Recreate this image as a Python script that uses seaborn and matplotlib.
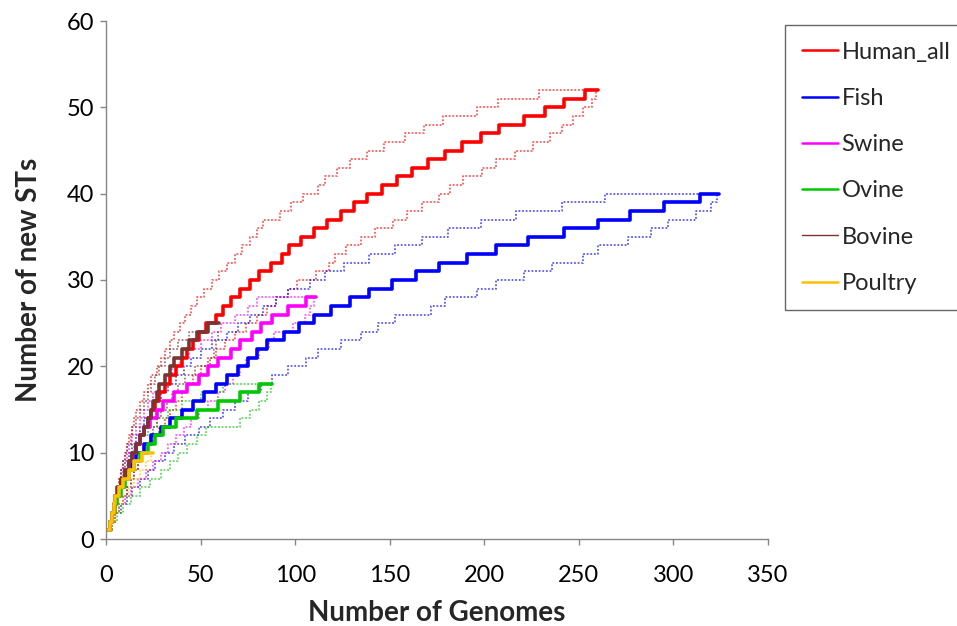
import numpy as np
import pandas as pd
import matplotlib
matplotlib.use("Agg")
import matplotlib.pyplot as plt
from matplotlib.lines import Line2D
import seaborn as sns

sns.set_theme(style="white")
plt.rcParams["font.family"] = ["Lato", "DejaVu Sans"]

# Genome counts at which each new ST (1, 2, 3, ...) is first reached,
# plus the total number of genomes sampled per host group.
human_mean = [1, 2, 3, 4, 5, 7, 8, 10, 12, 14, 16, 18, 20, 22, 24, 26, 28, 31, 34, 37,
              40, 43, 46, 49, 53, 58, 62, 66, 71, 76, 81, 87, 93, 97, 103, 110, 117, 124,
              131, 138, 146, 154, 162, 170, 179, 188, 198, 208, 221, 232, 242, 253]
human_hi = [1, 2, 3, 4, 5, 6, 7, 8, 9, 10, 11, 12, 14, 15, 16, 18, 20, 22, 24, 27,
            29, 31, 34, 36, 39, 42, 45, 48, 52, 56, 60, 64, 68, 72, 76, 80, 83, 92,
            98, 104, 112, 116, 122, 129, 138, 147, 158, 168, 178, 196, 207, 229]
human_lo = [1, 3, 5, 7, 9, 11, 13, 15, 17, 19, 22, 25, 28, 31, 34, 37, 40, 43, 46, 50,
            54, 58, 63, 68, 74, 80, 85, 90, 96, 101, 111, 118, 121, 127, 135, 142, 152,
            159, 167, 176, 182, 189, 199, 206, 216, 226, 235, 241, 247, 252, 257, 259]
human_n = 260

fish_mean = [1, 2, 3, 4, 5, 7, 9, 11, 13, 16, 20, 24, 29, 34, 40, 46, 52, 58, 64, 70,
             75, 80, 85, 94, 102, 110, 119, 129, 139, 151, 164, 176, 191, 206, 223, 242,
             260, 277, 295, 314]
fish_hi = [1, 2, 3, 4, 5, 6, 8, 9, 10, 12, 14, 16, 18, 20, 23, 26, 29, 33, 37, 41,
           45, 50, 56, 64, 70, 76, 83, 90, 96, 108, 116, 126, 139, 153, 167, 181, 198,
           217, 241, 264]
fish_lo = [1, 3, 5, 8, 11, 14, 18, 22, 26, 31, 36, 42, 49, 55, 62, 68, 75, 82, 88, 96,
           106, 112, 124, 135, 144, 153, 172, 179, 196, 206, 221, 236, 252, 260, 276,
           288, 297, 312, 320, 323]
fish_n = 324

swine_mean = [1, 2, 3, 4, 5, 7, 9, 10, 12, 14, 16, 18, 20, 23, 27, 30, 36, 43, 49, 54,
              59, 66, 71, 77, 82, 88, 96, 106]
swine_hi = [1, 2, 3, 4, 5, 6, 7, 8, 9, 11, 12, 14, 16, 18, 20, 22, 25, 28, 31, 35,
            39, 44, 50, 56, 61, 68, 75, 80]
swine_lo = [1, 3, 5, 7, 10, 13, 17, 21, 25, 29, 33, 37, 41, 45, 49, 54, 59, 63, 67, 71,
            74, 81, 86, 89, 99, 105, 108, 110]
swine_n = 111

ovine_mean = [1, 2, 3, 5, 6, 8, 10, 12, 15, 18, 22, 26, 30, 37, 48, 59, 71, 81]
ovine_hi = [1, 2, 3, 4, 5, 6, 8, 9, 11, 13, 15, 18, 22, 27, 33, 40, 50, 62]
ovine_lo = [1, 3, 6, 9, 13, 18, 23, 29, 34, 38, 43, 48, 53, 71, 76, 81, 85, 87]
ovine_n = 88

bovine_mean = [1, 2, 3, 4, 5, 6, 8, 10, 12, 14, 16, 18, 20, 22, 24, 25, 27, 28, 31, 34,
               36, 40, 44, 48, 54]
bovine_hi = [1, 2, 3, 4, 5, 6, 7, 8, 9, 10, 11, 13, 14, 16, 18, 20, 22, 24, 26, 28,
             31, 34, 38, 44, 54]
bovine_lo = [1, 3, 5, 7, 9, 11, 13, 15, 17, 19, 21, 23, 25, 27, 29, 32, 35, 38, 42, 47,
             55, 57, 58, 59]
bovine_n = 60

poultry_mean = [1, 2, 3, 4, 5, 7, 9, 12, 15, 19]
poultry_hi = [1, 2, 3, 4, 5, 6, 7, 9, 11, 14]
poultry_lo = [1, 3, 5, 7, 9, 12, 15, 18, 21, 24]
poultry_n = 25

groups = ["Human_all", "Fish", "Swine", "Ovine", "Bovine", "Poultry"]
colors = ["#FF0000", "#0000FF", "#FF00FF", "#00C800", "#7A3431", "#FFC000"]
means = [human_mean, fish_mean, swine_mean, ovine_mean, bovine_mean, poultry_mean]
uppers = [human_hi, fish_hi, swine_hi, ovine_hi, bovine_hi, poultry_hi]
lowers = [human_lo, fish_lo, swine_lo, ovine_lo, bovine_lo, poultry_lo]
totals = [human_n, fish_n, swine_n, ovine_n, bovine_n, poultry_n]


def curve(steps, n):
    """Genomes vs. cumulative STs for a step curve ending at n genomes."""
    xs = list(steps) + [n]
    ys = list(range(1, len(steps) + 1)) + [len(steps)]
    return pd.DataFrame({"genomes": xs, "sts": ys})


fig = plt.figure(figsize=(9.57, 6.26), dpi=100)
ax = fig.add_axes([106 / 957, 1 - 539 / 626, 662 / 957, 518 / 626])

# confidence bounds (dotted)
for steps_hi, steps_lo, n, c in zip(uppers, lowers, totals, colors):
    for steps in (steps_hi, steps_lo):
        sns.lineplot(data=curve(steps, n), x="genomes", y="sts", ax=ax,
                     estimator=None, sort=False, drawstyle="steps-post",
                     color=c, lw=1.3, alpha=0.65, linestyle=(0, (1, 1)))

# mean rarefaction curves
for steps, n, c in zip(means, totals, colors):
    sns.lineplot(data=curve(steps, n), x="genomes", y="sts", ax=ax,
                 estimator=None, sort=False, drawstyle="steps-post",
                 color=c, lw=2.6)

ax.set_xlim(0, 350)
ax.set_ylim(0, 60)
ax.set_xticks(np.arange(0, 351, 50))
ax.set_yticks(np.arange(0, 61, 10))
for side in ("top", "right"):
    ax.spines[side].set_visible(False)
for side in ("left", "bottom"):
    ax.spines[side].set_color("#868686")
    ax.spines[side].set_linewidth(1.0)
ax.tick_params(axis="both", which="major", direction="out", length=4.5, width=1.0,
               color="#868686", labelsize=17, labelcolor="black",
               bottom=True, left=True)
ax.tick_params(axis="x", pad=14)
ax.tick_params(axis="y", pad=4)
ax.set_xlabel("Number of Genomes", fontsize=20, fontweight="bold", labelpad=10)
ax.set_ylabel("Number of new STs", fontsize=20, fontweight="bold", labelpad=18)
ax.grid(False)

handles = [Line2D([0], [0], color=c, lw=(1.0 if g == "Bovine" else 1.8))
           for g, c in zip(groups, colors)]
leg = fig.legend(handles, groups, loc="upper left",
                 bbox_to_anchor=(785 / 957, 1 - 25 / 626),
                 frameon=True, fancybox=False, fontsize=17,
                 handlelength=1.55, handletextpad=0.15, labelspacing=1.07,
                 borderpad=0.7, borderaxespad=0)
leg.get_frame().set_edgecolor("#404040")
leg.get_frame().set_linewidth(1.0)

fig.savefig("out.png", dpi=100)
